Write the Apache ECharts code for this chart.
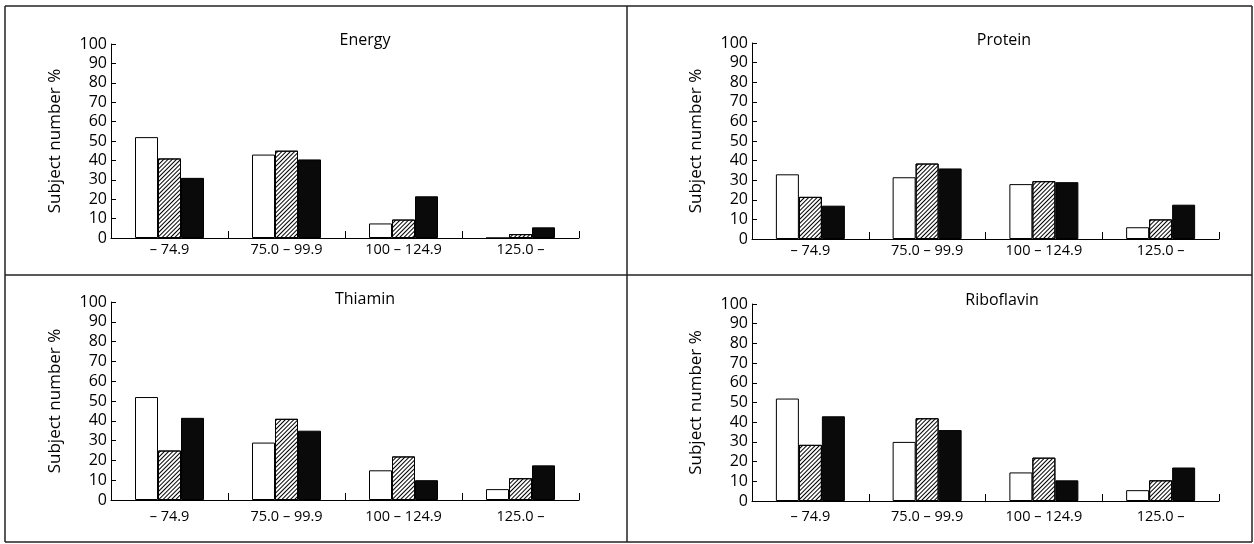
<!DOCTYPE html>
<html>
<head>
<meta charset="utf-8">
<script src="https://cdn.jsdelivr.net/npm/echarts@6/dist/echarts.min.js"></script>
<style>
  html, body { margin: 0; background: #fff; }
  #chart { width: 1254px; height: 544px; }
</style>
</head>
<body>
<div id="chart"></div>
<script>
/* ---------------------------------- data ---------------------------------- */
const categories = ['– 74.9', '75.0 – 99.9', '100 – 124.9', '125.0 –'];
const panelTitles = ['Energy', 'Protein', 'Thiamin', 'Riboflavin'];
const yAxisName = 'Subject number %';
const yMin = 0;
const yMax = 100;
const yStep = 10;

const energyOpen = [52, 43, 7.5, 0];
const energyHatched = [41, 45, 9.5, 2];
const energySolid = [31, 40.5, 21.5, 5.5];

const proteinOpen = [33, 31.5, 28, 6];
const proteinHatched = [21.5, 38.5, 29.5, 10];
const proteinSolid = [17, 36, 29, 17.5];

const thiaminOpen = [52, 29, 15, 5.5];
const thiaminHatched = [25, 41, 22, 11];
const thiaminSolid = [41.5, 35, 10, 17.5];

const riboflavinOpen = [52, 30, 14.5, 5.5];
const riboflavinHatched = [28.5, 42, 22, 10.5];
const riboflavinSolid = [43, 36, 10.5, 17];

/* --------------------------------- chart ---------------------------------- */
const chartInit = () => {
  const $chart = document.getElementById('chart');
  const chart = echarts.init($chart);
  const font = 'Open Sans';

  const panelData = [
    [energyOpen, energyHatched, energySolid],
    [proteinOpen, proteinHatched, proteinSolid],
    [thiaminOpen, thiaminHatched, thiaminSolid],
    [riboflavinOpen, riboflavinHatched, riboflavinSolid]
  ];

  // plot boxes of the four panels
  const layout = [
    { left: 111, top: 44, width: 468, height: 194, titleX: 360, titleY: 27, margin: 4 },
    { left: 752, top: 43, width: 467, height: 196, titleX: 999, titleY: 27, margin: 4 },
    { left: 111, top: 302, width: 468, height: 198, titleX: 360, titleY: 286, margin: 9 },
    { left: 752, top: 304, width: 467, height: 197, titleX: 997, titleY: 287, margin: 8 }
  ];

  const barStyles = [
    { color: '#fff', borderColor: '#000', borderWidth: 1 },
    {
      color: '#fff',
      borderColor: '#000',
      borderWidth: 1,
      decal: {
        symbol: 'rect',
        symbolSize: 1,
        color: '#000',
        dashArrayX: [1, 0],
        dashArrayY: [1, 2],
        rotation: -Math.PI / 4
      }
    },
    { color: '#0a0a0a', borderColor: '#000', borderWidth: 1 }
  ];

  const frameLine = (x1, y1, x2, y2) => ({
    type: 'line',
    shape: { x1, y1, x2, y2 },
    style: { stroke: '#222', lineWidth: 1.5 },
    silent: true
  });

  const option = {
    animation: false,
    backgroundColor: '#fff',
    textStyle: { fontFamily: font, color: '#000' },
    title: layout.map((l, i) => ({
      text: panelTitles[i],
      left: l.titleX,
      top: l.titleY,
      textAlign: 'center',
      textStyle: { fontFamily: font, fontSize: 16, fontWeight: 'normal', color: '#000' }
    })),
    grid: layout.map(l => ({
      left: l.left,
      top: l.top,
      width: l.width,
      height: l.height,
      containLabel: false
    })),
    xAxis: layout.map((l, i) => ({
      type: 'category',
      gridIndex: i,
      data: categories,
      axisLine: { show: true, lineStyle: { color: '#000', width: 1 } },
      axisTick: { show: true, inside: true, length: 7, lineStyle: { color: '#000' } },
      axisLabel: { color: '#000', fontFamily: font, fontSize: 14.5, margin: l.margin },
      splitLine: { show: false }
    })),
    yAxis: layout.map((l, i) => ({
      type: 'value',
      gridIndex: i,
      min: yMin,
      max: yMax,
      interval: yStep,
      name: yAxisName,
      nameLocation: 'middle',
      nameGap: 47,
      nameTextStyle: { color: '#000', fontFamily: font, fontSize: 17 },
      axisLine: { show: true, lineStyle: { color: '#000', width: 1 } },
      axisTick: { show: true, inside: true, length: 5, lineStyle: { color: '#000' } },
      axisLabel: { color: '#000', fontFamily: font, fontSize: 16, margin: 4 },
      splitLine: { show: false }
    })),
    series: panelData.flatMap((sets, i) =>
      sets.map((values, k) => ({
        type: 'bar',
        name: ['open', 'hatched', 'solid'][k],
        xAxisIndex: i,
        yAxisIndex: i,
        data: values,
        barWidth: 23,
        barGap: '0%',
        itemStyle: barStyles[k],
        emphasis: { disabled: true }
      }))
    ),
    graphic: [
      frameLine(5, 6, 1252, 6),
      frameLine(5, 275, 1252, 275),
      frameLine(5, 542, 1252, 542),
      frameLine(5, 6, 5, 542),
      frameLine(627, 6, 627, 542),
      frameLine(1252, 6, 1252, 542)
    ]
  };

  chart.setOption(option);
};

chartInit();
</script>
</body>
</html>
